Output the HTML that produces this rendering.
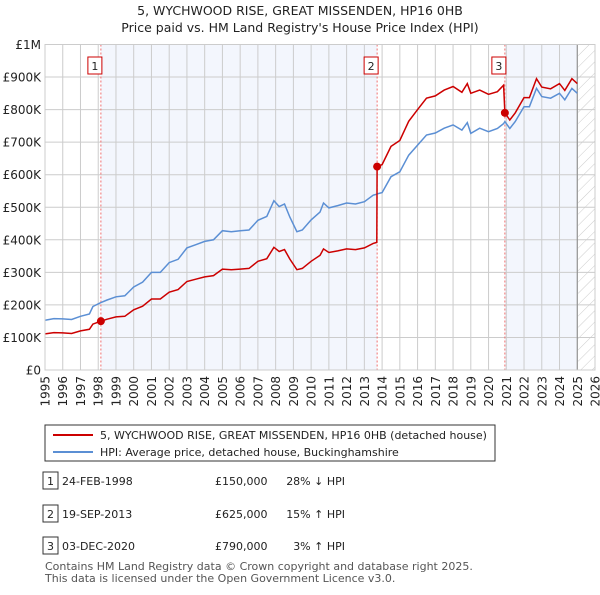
<!DOCTYPE html>
<html><head><meta charset="utf-8"><style>
body{margin:0;background:#fff;font-family:"Liberation Sans","DejaVu Sans",sans-serif;}
svg text{font-family:"DejaVu Sans","Liberation Sans",sans-serif;}
</style></head><body>
<svg id="chart" width="600" height="590" viewBox="0 0 600 590" xmlns="http://www.w3.org/2000/svg">
<defs><pattern id="hatch" width="8" height="8" patternUnits="userSpaceOnUse" patternTransform="rotate(45)"><line x1="0" y1="0" x2="0" y2="8" stroke="#ccc" stroke-width="1"/></pattern></defs>
<text x="300" y="15" text-anchor="middle" font-size="12.5" fill="#222">5, WYCHWOOD RISE, GREAT MISSENDEN, HP16 0HB</text>
<text x="300" y="32" text-anchor="middle" font-size="12.5" fill="#222">Price paid vs. HM Land Registry's House Price Index (HPI)</text>
<g id="plot"></g>
<g>
<rect x="45" y="425" width="450" height="36" fill="#fff" stroke="#333" stroke-width="1"/>
<line x1="53" y1="435" x2="93" y2="435" stroke="#cc0000" stroke-width="2"/>
<text x="100" y="439" font-size="11" fill="#222">5, WYCHWOOD RISE, GREAT MISSENDEN, HP16 0HB (detached house)</text>
<line x1="53" y1="452" x2="93" y2="452" stroke="#5b8fd4" stroke-width="2"/>
<text x="100" y="456" font-size="11" fill="#222">HPI: Average price, detached house, Buckinghamshire</text>
</g>
<g id="table" font-size="11" fill="#222"></g>
<text x="45" y="570" font-size="11" fill="#555">Contains HM Land Registry data © Crown copyright and database right 2025.</text>
<text x="45" y="582" font-size="11" fill="#555">This data is licensed under the Open Government Licence v3.0.</text>
</svg>
<script>
const years=[1995,1995.5,1996,1996.5,1997,1997.5,1997.7,1998.15,1998.5,1999,1999.5,2000,2000.5,2001,2001.5,2002,2002.5,2003,2003.5,2004,2004.5,2005,2005.5,2006,2006.5,2007,2007.5,2007.9,2008.2,2008.5,2008.8,2009.2,2009.5,2010,2010.5,2010.7,2011,2011.5,2012,2012.5,2013,2013.5,2013.7,2013.72,2014,2014.5,2015,2015.5,2016,2016.5,2017,2017.5,2018,2018.5,2018.8,2019,2019.5,2020,2020.5,2020.85,2020.92,2021.2,2021.5,2022,2022.3,2022.7,2023,2023.5,2024,2024.3,2024.7,2025];
const hpi=[153,158,157,155,165,172,195,207,215,225,228,255,270,300,300,330,340,375,385,395,400,428,425,428,430,460,472,520,502,510,470,425,430,461,485,513,498,505,513,510,517,537,540,541,545,594,609,660,691,722,728,743,753,737,760,727,743,732,742,757,763,742,763,809,809,865,840,835,850,830,865,850];
const paid=[111,115,114,112,120,125,141,150,156,163,165,185,196,218,218,239,247,272,279,286,290,310,308,310,312,334,342,377,364,370,341,308,312,334,352,372,361,366,372,370,375,389,392,625,631,687,705,764,800,835,842,860,871,853,880,850,860,847,855,875,790,768,790,837,837,895,869,864,880,859,895,880];
const saleDates=[1998.15,2013.72,2020.92];
const salePrices=[150,625,790];
const saleLabels=["1","2","3"];
const saleDateText=["24-FEB-1998","19-SEP-2013","03-DEC-2020"];
const salePriceText=["£150,000","£625,000","£790,000"];
const saleHpiText=["28% ↓ HPI","15% ↑ HPI","3% ↑ HPI"];
const yTicks=[0,100,200,300,400,500,600,700,800,900,1000];
const yTickLabels=["£0","£100K","£200K","£300K","£400K","£500K","£600K","£700K","£800K","£900K","£1M"];
const xTicks=[1995,1996,1997,1998,1999,2000,2001,2002,2003,2004,2005,2006,2007,2008,2009,2010,2011,2012,2013,2014,2015,2016,2017,2018,2019,2020,2021,2022,2023,2024,2025,2026];

const X0=45,X1=595,Y0=370,Y1=44.5;
const sx=v=>X0+(v-1995)/31*(X1-X0);
const sy=v=>Y0-v/1000*(Y0-Y1);
const NS="http://www.w3.org/2000/svg";
const plot=document.getElementById('plot');
function mk(tag,attrs,parent){const e=document.createElementNS(NS,tag);for(const k in attrs)e.setAttribute(k,attrs[k]);(parent||plot).appendChild(e);return e;}
let s=mk('rect',{x:sx(saleDates[0]),y:Y1,width:sx(saleDates[1])-sx(saleDates[0]),height:Y0-Y1,fill:'#f3f6fd'});


s=mk('rect',{x:sx(saleDates[2]),y:Y1,width:sx(2025.0)-sx(saleDates[2]),height:Y0-Y1,fill:'#f3f6fd'});


s=mk('rect',{x:sx(2025.05),y:Y1,width:X1-sx(2025.05),height:Y0-Y1,fill:'url(#hatch)'});


yTicks.forEach((t,i)=>{
  const l=mk('line',{x1:X0,x2:X1,y1:sy(t),y2:sy(t),stroke:'#ccc','stroke-width':1});
  
  
  const tx=mk('text',{x:X0-4,y:sy(t)+4.5,'text-anchor':'end','font-size':12,fill:'#222'});
  tx.textContent=yTickLabels[i];
  
  
});
xTicks.forEach(t=>{
  const l=mk('line',{x1:sx(t),x2:sx(t),y1:Y1,y2:Y0,stroke:'#ccc','stroke-width':1});
  
  
  const tx=mk('text',{x:0,y:0,'text-anchor':'end','font-size':12,fill:'#222',transform:`translate(${sx(t)+4.5},${Y0+6}) rotate(-90)`});
  tx.textContent=t;
  
  
});
let b=mk('line',{x1:sx(2025.0),x2:sx(2025.0),y1:Y1,y2:Y0,stroke:'#888','stroke-width':1});


saleDates.forEach((d,i)=>{
  const l=mk('line',{x1:sx(d),x2:sx(d),y1:Y1,y2:Y0,stroke:'#f07070','stroke-width':1,'stroke-dasharray':'2,2'});
  
  
  const r=mk('rect',{x:sx(d)-13,y:57,width:14,height:17,fill:'#fff',stroke:'#cc0000','stroke-width':1});
  
  
  const tx=mk('text',{x:sx(d)-6,y:70,'text-anchor':'middle','font-size':11,fill:'#222'});
  tx.textContent=saleLabels[i];
  
  
});
const pts=arr=>years.map((y,i)=>sx(y).toFixed(1)+','+sy(arr[i]).toFixed(1)).join(' ');
let hl=mk('polyline',{points:pts(hpi),fill:'none',stroke:'#5b8fd4','stroke-width':1.5});


let pl=mk('polyline',{points:pts(paid),fill:'none',stroke:'#cc0000','stroke-width':1.5});


saleDates.forEach((d,i)=>{
  const c=mk('circle',{cx:sx(d),cy:sy(salePrices[i]),r:4,fill:'#cc0000'});
  
  
});
let ax=mk('rect',{x:X0,y:Y1,width:X1-X0,height:Y0-Y1,fill:'none',stroke:'#ccc','stroke-width':1});


const tb=document.getElementById('table');
const rowY=[483,516,548];
saleLabels.forEach((lab,i)=>{
  const y=rowY[i];
  const r=mk('rect',{x:43,y:y-11,width:15,height:17,fill:'#fff',stroke:'#333','stroke-width':1},tb);
  
  
  const cells=[[50.5,lab,'middle'],[62,saleDateText[i],'start'],[215,salePriceText[i],'start'],[345,saleHpiText[i],'end']];
  cells.forEach(c=>{
    const t=mk('text',{x:c[0],y:y+2,'text-anchor':c[2],'font-size':11,fill:'#222'},tb);
    t.textContent=c[1];
    
    
  });
});
</script>
</body></html>
